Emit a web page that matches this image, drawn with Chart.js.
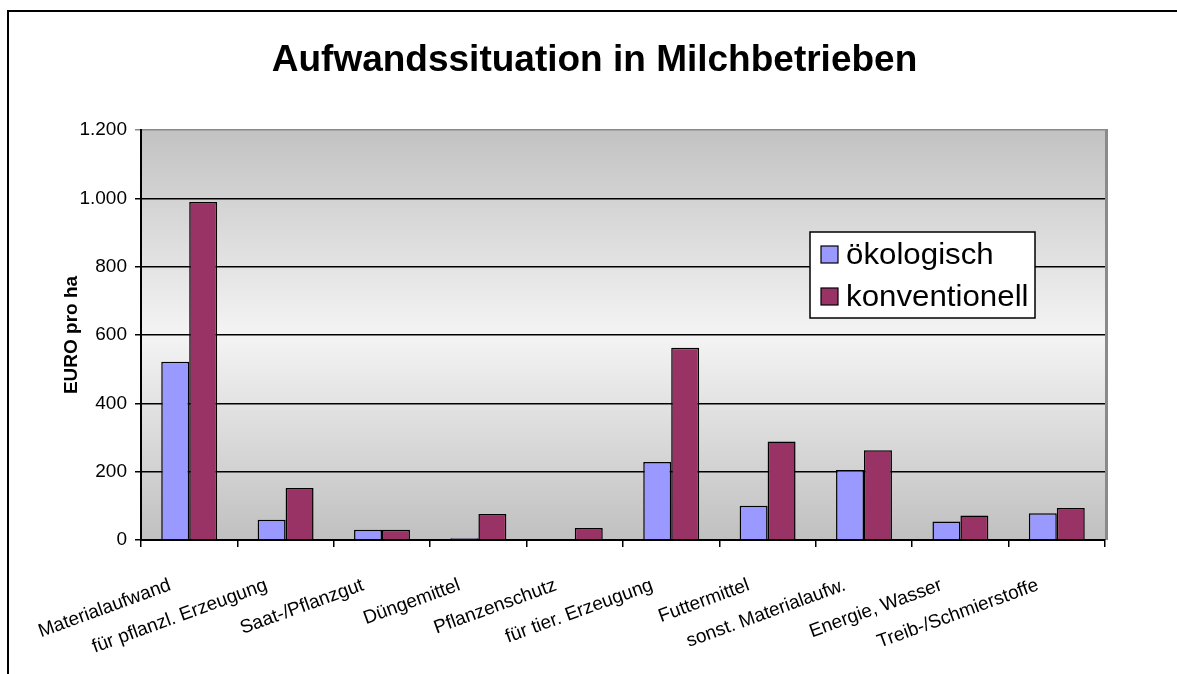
<!DOCTYPE html>
<html>
<head>
<meta charset="utf-8">
<script src="https://cdn.jsdelivr.net/npm/chart.js@4.4.1/dist/chart.umd.min.js"></script>
<style>
  html, body { margin: 0; padding: 0; background: #fff; }
  #wrap { position: relative; width: 1177px; height: 674px; }
  canvas { display: block; }
</style>
</head>
<body>
<div id="wrap"><canvas id="c" width="1177" height="674"></canvas></div>
<script>
const chartTitle = "Aufwandssituation in Milchbetrieben";
const yAxisTitle = "EURO pro ha";
const categories = [
  "Materialaufwand",
  "für pflanzl. Erzeugung",
  "Saat-/Pflanzgut",
  "Düngemittel",
  "Pflanzenschutz",
  "für tier. Erzeugung",
  "Futtermittel",
  "sonst. Materialaufw.",
  "Energie, Wasser",
  "Treib-/Schmierstoffe"
];
const seriesNames = ["ökologisch", "konventionell"];
const oekologisch = [522, 59, 30, 5, 0, 228, 100, 205, 54, 78];
const konventionell = [989, 152, 30, 76, 35, 563, 288, 263, 72, 94];
const yTicks = [0, 200, 400, 600, 800, 1000, 1200];

const FONT = "'Liberation Sans', Arial, Helvetica, sans-serif";

function fmtDE(v) {
  return String(v).replace(/\B(?=(\d{3})+(?!\d))/g, ".");
}

const bgPlugin = {
  id: 'plotBg',
  beforeDraw(chart) {
    const { ctx, chartArea: a } = chart;
    ctx.save();
    const g = ctx.createLinearGradient(0, a.top, 0, a.bottom);
    g.addColorStop(0, '#c2c2c2');
    g.addColorStop(0.5, '#f4f4f4');
    g.addColorStop(1, '#c0c0c0');
    ctx.fillStyle = g;
    ctx.fillRect(a.left, a.top, a.right - a.left, a.bottom - a.top);
    ctx.fillStyle = '#8a8a8a';
    ctx.fillRect(a.right, a.top - 1, 3, a.bottom - a.top + 1);
    ctx.restore();
  },
  afterDraw(chart) {
    const { ctx } = chart;
    ctx.save();
    ctx.strokeStyle = '#000';
    ctx.lineWidth = 2;
    ctx.beginPath();
    ctx.moveTo(8, 680);
    ctx.lineTo(8, 11);
    ctx.lineTo(1180, 11);
    ctx.stroke();
    ctx.restore();
  }
};

const legendPlugin = {
  id: 'boxLegend',
  afterDraw(chart) {
    const { ctx } = chart;
    const x = 810, y = 232, w = 225, h = 86;
    ctx.save();
    ctx.fillStyle = '#fff';
    ctx.fillRect(x, y, w, h);
    ctx.strokeStyle = '#000';
    ctx.lineWidth = 1.5;
    ctx.strokeRect(x, y, w, h);
    ctx.textBaseline = 'middle';
    ctx.textAlign = 'left';
    chart.data.datasets.forEach((ds, i) => {
      const cy = y + 23 + i * 42;
      ctx.fillStyle = ds.backgroundColor;
      ctx.fillRect(x + 11, cy - 9, 17, 17);
      ctx.lineWidth = 1.2;
      ctx.strokeStyle = '#000';
      ctx.strokeRect(x + 11, cy - 9, 17, 17);
      ctx.save();
      ctx.translate(x + 36, cy + 1);
      ctx.scale(1.06, 1);
      ctx.font = "29.5px " + FONT;
      ctx.fillStyle = '#000';
      ctx.fillText(ds.label, 0, 0);
      ctx.restore();
    });
    ctx.restore();
  }
};

new Chart(document.getElementById('c'), {
  type: 'bar',
  data: {
    labels: categories,
    datasets: [
      { label: seriesNames[0], data: oekologisch, backgroundColor: '#9999ff', borderColor: '#000', borderWidth: 1.5, categoryPercentage: 0.58, barPercentage: 1.0 },
      { label: seriesNames[1], data: konventionell, backgroundColor: '#993366', borderColor: '#000', borderWidth: 1.5, categoryPercentage: 0.58, barPercentage: 1.0 }
    ]
  },
  options: {
    responsive: false,
    animation: false,
    layout: { padding: { left: 12, right: 0, top: 0, bottom: 0 } },
    plugins: {
      legend: { display: false },
      tooltip: { enabled: false },
      title: {
        display: true,
        text: chartTitle,
        color: '#000',
        font: { family: FONT, size: 37, weight: 'bold' },
        padding: { top: 39, bottom: 46.6 }
      }
    },
    scales: {
      x: {
        offset: true,
        grid: { display: true, offset: true, drawOnChartArea: false, drawTicks: true, tickLength: 7, color: '#000', lineWidth: 1.5 },
        border: { display: true, color: '#000', width: 2 },
        ticks: {
          color: '#000',
          font: { family: FONT, size: 19 },
          maxRotation: 20, minRotation: 20,
          autoSkip: false,
          padding: 27,
          labelOffset: -19
        },
        afterFit(scale) { scale.height = 134; }
      },
      y: {
        min: 0, max: 1200,
        afterBuildTicks(scale) { scale.ticks = yTicks.map(v => ({ value: v })); },
        grid: {
          color: (c) => (c.tick && c.tick.value === 1200) ? '#8a8a8a' : '#000',
          lineWidth: 1.5,
          drawTicks: true, tickLength: 6
        },
        border: { display: true, color: '#000', width: 2 },
        ticks: {
          color: '#000',
          font: { family: FONT, size: 19 },
          padding: 8,
          callback: (v) => fmtDE(v)
        },
        title: {
          display: true,
          text: yAxisTitle,
          color: '#000',
          font: { family: FONT, size: 19, weight: 'bold' },
          padding: { top: 48.6, bottom: 0 }
        },
        afterFit(scale) { scale.width = 129; }
      },
      yR: {
        type: 'linear',
        position: 'right',
        display: true,
        min: 0, max: 1200,
        grid: { display: false, drawTicks: false },
        border: { display: false },
        ticks: { display: false },
        afterFit(scale) { scale.width = 72; }
      }
    }
  },
  plugins: [bgPlugin, legendPlugin]
});
</script>
</body>
</html>
